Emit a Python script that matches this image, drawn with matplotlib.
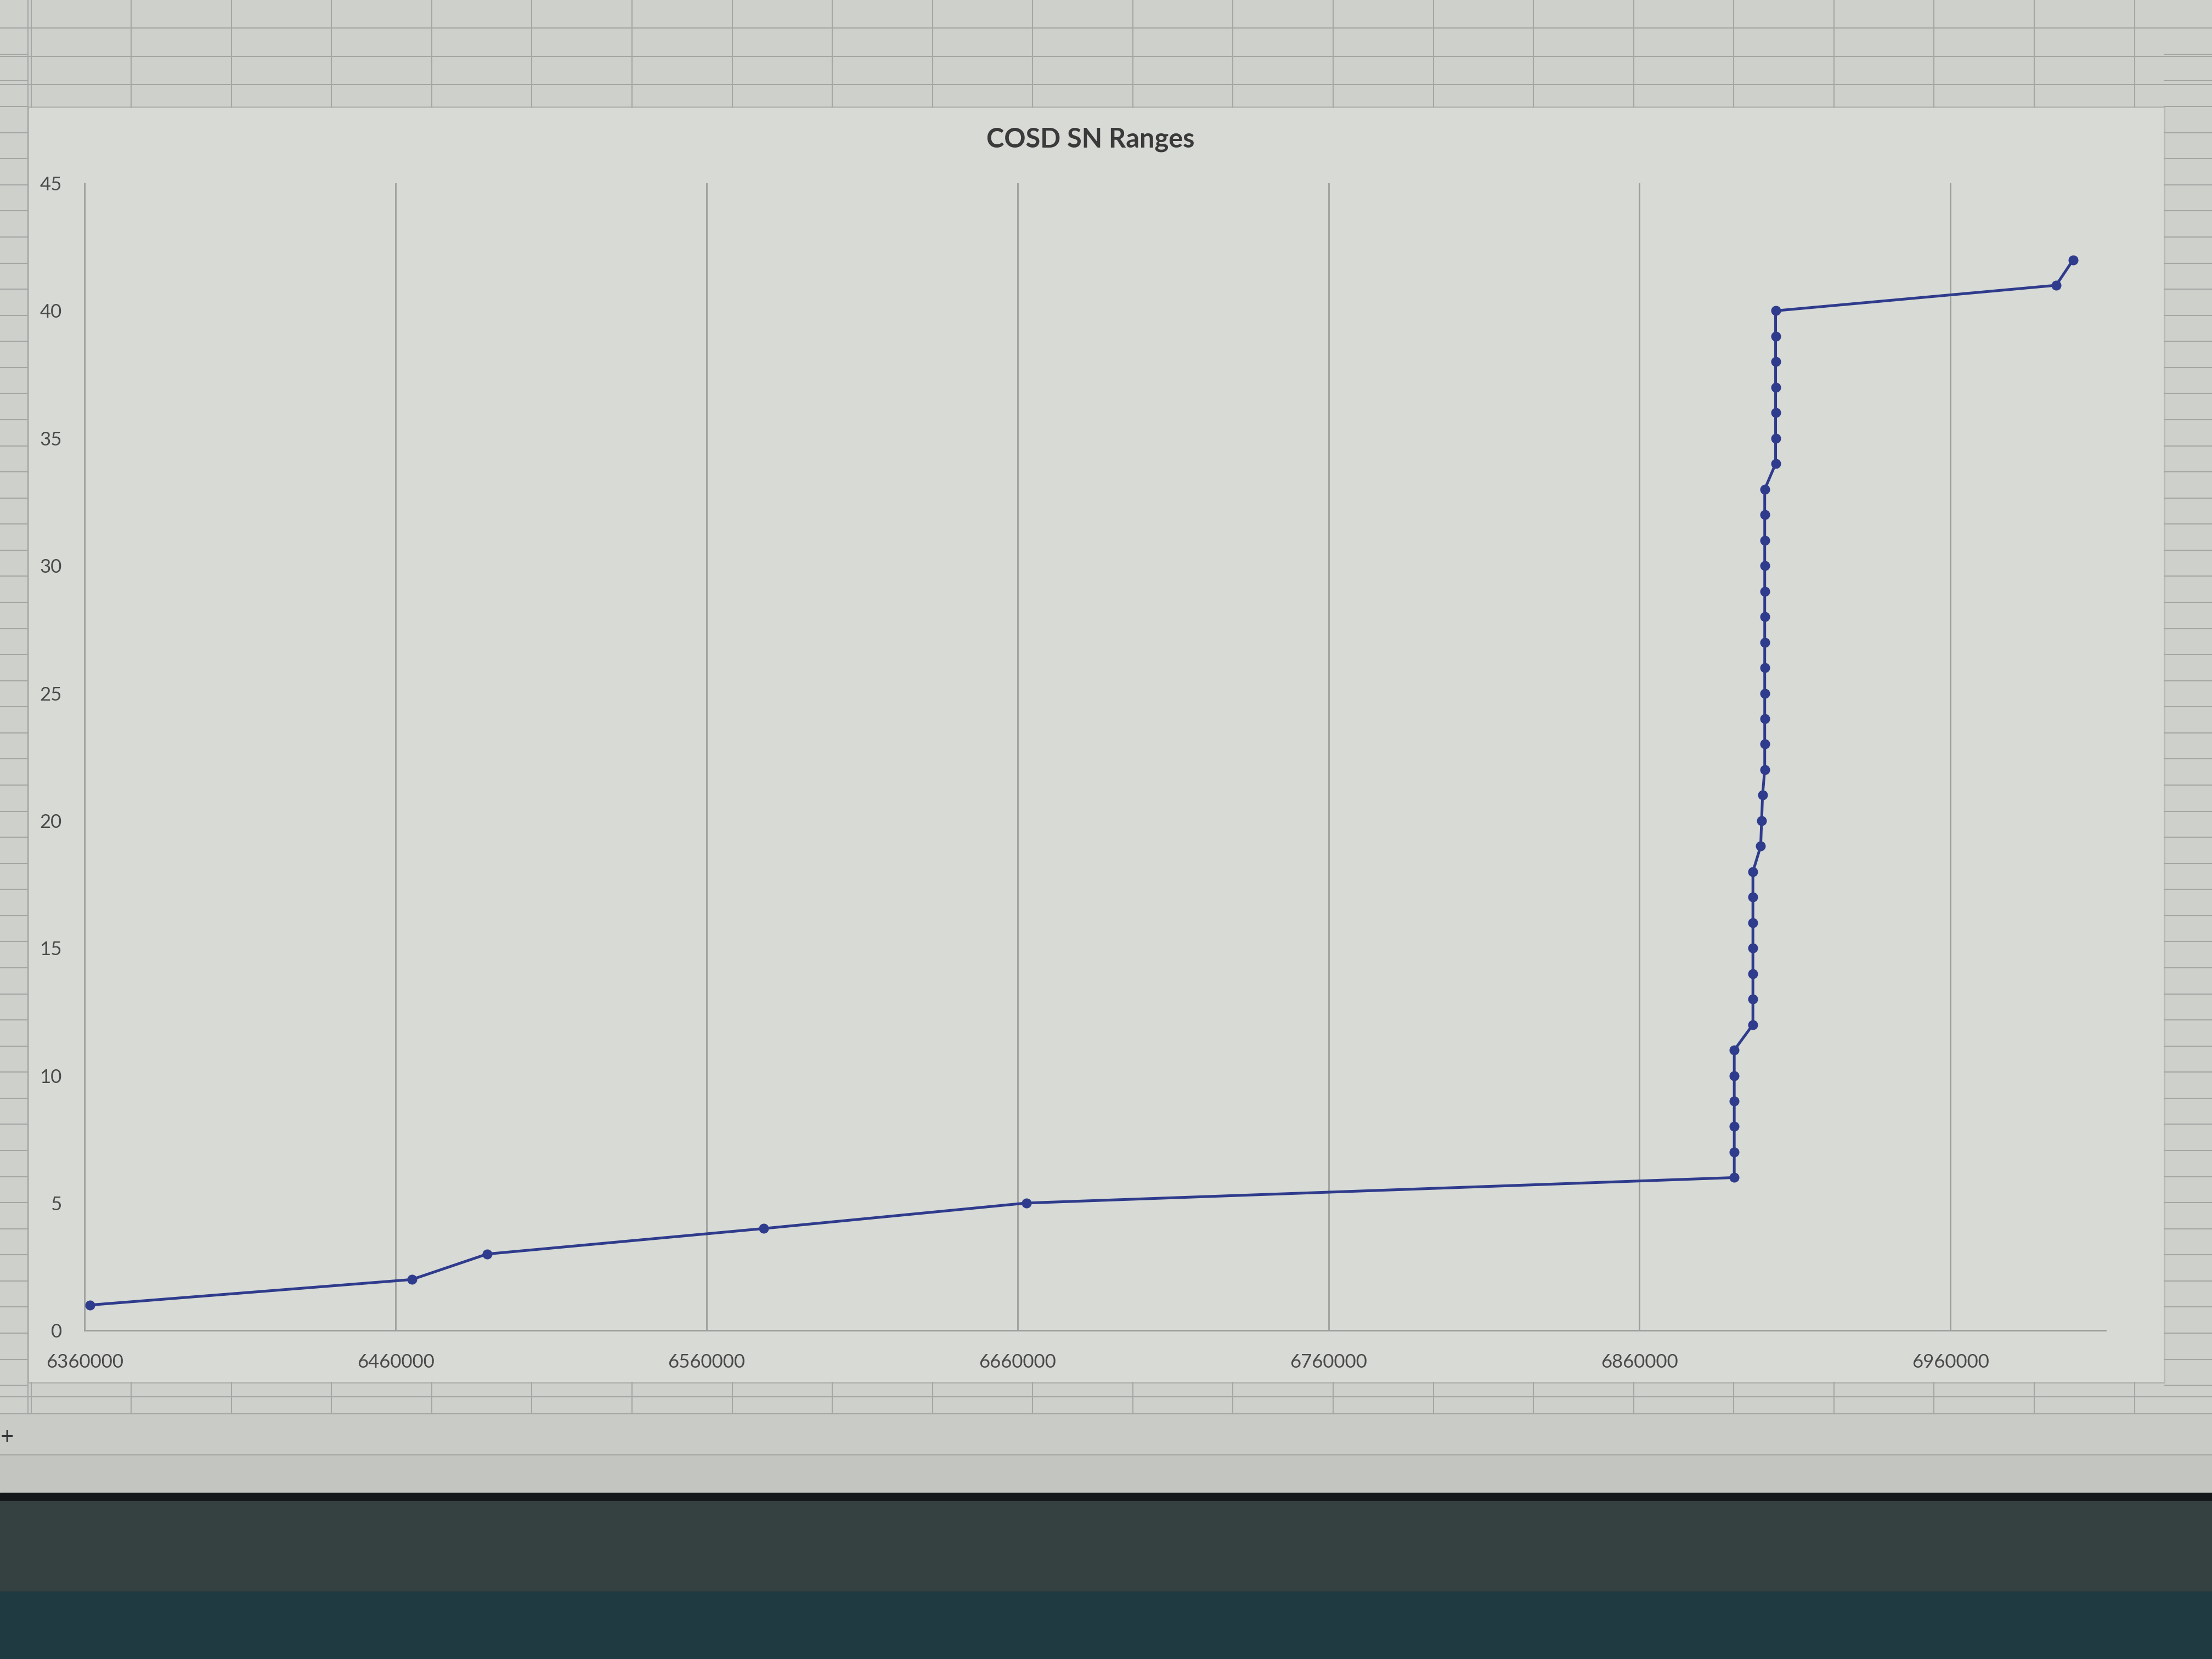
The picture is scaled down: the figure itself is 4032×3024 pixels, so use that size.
import matplotlib.pyplot as plt
import matplotlib.patches as mpatches
import numpy as np

# serial number (x) against running count (y)
sn_start = [6361700, 6465200, 6489400, 6578300, 6662800,
            6890500, 6890500, 6890500, 6890500, 6890500, 6890500,
            6896500, 6896500, 6896500, 6896500, 6896500, 6896500, 6896500,
            6899000, 6899300, 6899600,
            6900300, 6900300, 6900300, 6900300, 6900300, 6900300,
            6900300, 6900300, 6900300, 6900300, 6900300, 6900300,
            6903800, 6903800, 6903800, 6903800, 6903800, 6903800, 6903800,
            6994000, 6999500]
range_no = [1, 2, 3, 4, 5, 6, 7, 8, 9, 10, 11, 12, 13, 14, 15, 16, 17, 18,
            19, 20, 21, 22, 23, 24, 25, 26, 27, 28, 29, 30, 31, 32, 33, 34,
            35, 36, 37, 38, 39, 40, 41, 42]
x_ticks = [6360000, 6460000, 6560000, 6660000, 6760000, 6860000, 6960000]
y_ticks = [0, 5, 10, 15, 20, 25, 30, 35, 40, 45]

plt.rcParams['font.family'] = ['Lato', 'DejaVu Sans']

fig = plt.figure(figsize=(40.32, 30.24), dpi=100)

# spreadsheet behind the chart (coords in photo pixels 1568x1176)
bg = fig.add_axes([0, 0, 1, 1], zorder=-10)
bg.set_xlim(0, 1568)
bg.set_ylim(1176, 0)
bg.axis('off')
bg.add_patch(mpatches.Rectangle((0, 0), 1568, 1176, color='#cdd0cb'))
cell_col = '#a4a7a3'
for yy in np.arange(20, 1000, 18.5):
    bg.plot([0, 20], [yy, yy], color=cell_col, lw=1.5)
    bg.plot([1534, 1568], [yy, yy], color=cell_col, lw=1.5)
for yy in [20, 40, 60]:
    bg.plot([0, 1568], [yy, yy], color=cell_col, lw=1.5)
for yy in [990, 1002]:
    bg.plot([0, 1568], [yy, yy], color=cell_col, lw=1.5)
for xx in np.arange(22, 1568, 71):
    bg.plot([xx, xx], [0, 76], color=cell_col, lw=1.5)
    bg.plot([xx, xx], [980, 1002], color=cell_col, lw=1.5)
bg.plot([20, 20], [0, 1002], color=cell_col, lw=1.5)
bg.add_patch(mpatches.Rectangle((20, 76), 1514, 904, facecolor='#d7dad5',
                                edgecolor='#b5b8b3', lw=2))
bg.add_patch(mpatches.Rectangle((0, 1002), 1568, 29, color='#c8cbc6'))
bg.add_patch(mpatches.Rectangle((0, 1031), 1568, 27, color='#c2c5c0'))
bg.plot([0, 1568], [1031, 1031], color='#a8aba6', lw=2)
bg.add_patch(mpatches.Rectangle((0, 1058), 1568, 6, color='#151818'))
bg.add_patch(mpatches.Rectangle((0, 1064), 1568, 64, color='#354041'))
bg.add_patch(mpatches.Rectangle((0, 1128), 1568, 48, color='#1f3a40'))
bg.text(5, 1019, '+', fontsize=30, color='#333333', ha='center', va='center')

ax = fig.add_axes([0.0383, 0.198, 0.9137, 0.6915])
ax.set_facecolor('none')

ax.plot(sn_start, range_no, color='#2f3b8c', lw=3.6, marker='o',
        markersize=12, markerfacecolor='#2f3b8c', markeredgecolor='#2f3b8c',
        zorder=3)

ax.set_xlim(6360000, 7010000)
ax.set_ylim(0, 45)
ax.set_xticks(x_ticks)
ax.set_xticklabels([str(v) for v in x_ticks])
ax.set_yticks(y_ticks)
ax.grid(axis='x', color='#9c9f9b', lw=2)
ax.grid(axis='y', visible=False)
ax.set_axisbelow(True)

for side in ['top', 'right']:
    ax.spines[side].set_visible(False)
ax.spines['left'].set_color('#9c9f9b')
ax.spines['left'].set_linewidth(2)
ax.spines['bottom'].set_color('#9c9f9b')
ax.spines['bottom'].set_linewidth(2)
ax.tick_params(axis='both', length=0, labelsize=25, labelcolor='#4a4a4a')
ax.tick_params(axis='x', pad=30)
ax.tick_params(axis='y', pad=30)

fig.text(0.493, 0.916, 'COSD SN Ranges', ha='center', va='center',
         fontsize=35, fontweight='bold', color='#3a3a3a')

fig.savefig('out.png', dpi=100)
